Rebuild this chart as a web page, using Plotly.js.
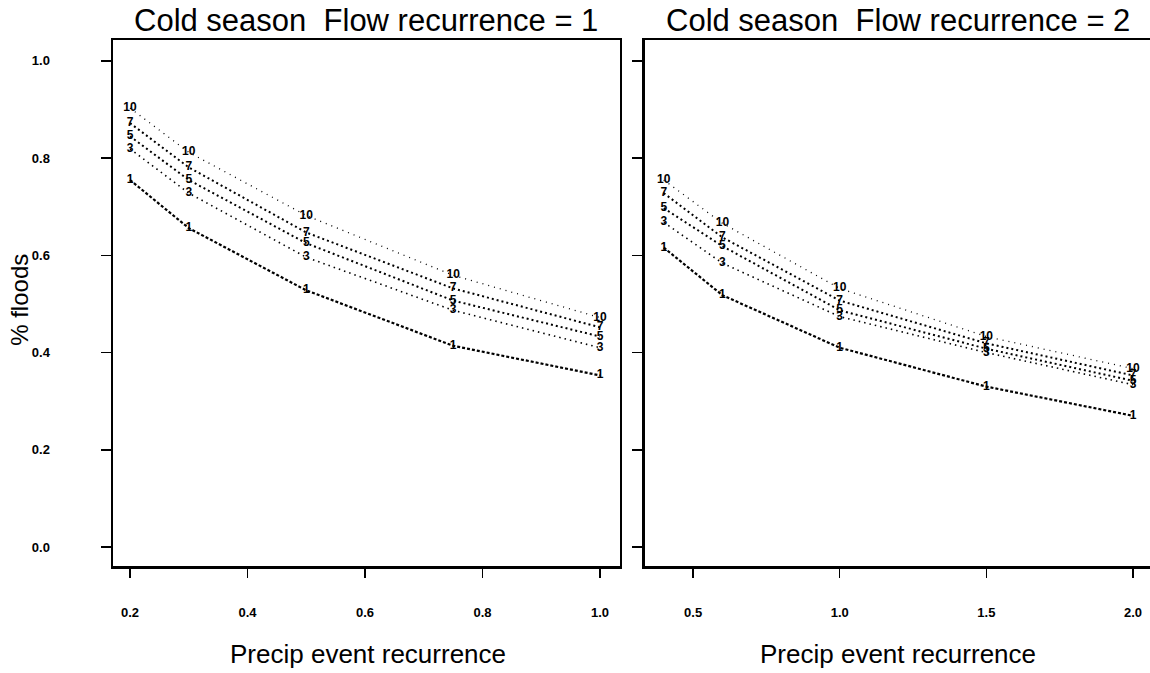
<!DOCTYPE html>
<html>
<head>
<meta charset="utf-8">
<script src="https://cdn.plot.ly/plotly-3.0.1.min.js"></script>
<style>html,body{margin:0;padding:0;background:#fff;}#chart{width:1150px;height:673px;}</style>
</head>
<body>
<div id="chart"></div>
<script>
// Precip event recurrence (x) for each panel
var precipLeft = [0.2, 0.3, 0.5, 0.75, 1.0];
var precipRight = [0.4, 0.6, 1.0, 1.5, 2.0];

// Curve labels
var curveLabels = ['10', '7', '5', '3', '1'];

// Left panel: Flow recurrence = 1, % floods
var left10 = [0.903, 0.812, 0.682, 0.559, 0.472];
var left7  = [0.872, 0.781, 0.647, 0.532, 0.452];
var left5  = [0.845, 0.755, 0.625, 0.507, 0.433];
var left3  = [0.819, 0.728, 0.596, 0.487, 0.410];
var left1  = [0.755, 0.656, 0.528, 0.414, 0.353];

// Right panel: Flow recurrence = 2, % floods
var right10 = [0.755, 0.666, 0.532, 0.433, 0.367];
var right7  = [0.728, 0.637, 0.507, 0.419, 0.353];
var right5  = [0.697, 0.619, 0.487, 0.408, 0.342];
var right3  = [0.668, 0.584, 0.474, 0.400, 0.334];
var right1  = [0.616, 0.518, 0.410, 0.330, 0.270];

// Tick labels
var xTicksLeft = [0.2, 0.4, 0.6, 0.8, 1.0];
var xTickTextLeft = ['0.2', '0.4', '0.6', '0.8', '1.0'];
var xTicksRight = [0.5, 1.0, 1.5, 2.0];
var xTickTextRight = ['0.5', '1.0', '1.5', '2.0'];
var yTicks = [0.0, 0.2, 0.4, 0.6, 0.8, 1.0];
var yTickText = ['0.0', '0.2', '0.4', '0.6', '0.8', '1.0'];

var leftSeries = [left10, left7, left5, left3, left1];
var rightSeries = [right10, right7, right5, right3, right1];

var lineStyles = [
  {width: 1.3, dash: '1px,5px'},
  {width: 2.0, dash: '2px,3px'},
  {width: 2.0, dash: '2px,3px'},
  {width: 1.6, dash: '1.5px,4px'},
  {width: 2.2, dash: '3px,2px'}
];

var FONT = 'Liberation Sans, Arial, Helvetica, sans-serif';
var traces = [];
function addPanel(xs, series, xa, ya) {
  for (var i = 0; i < series.length; i++) {
    var txt = xs.map(function(){ return curveLabels[i]; });
    traces.push({
      x: xs, y: series[i], xaxis: xa, yaxis: ya,
      type: 'scatter', mode: 'lines+text',
      text: txt, textposition: 'middle center',
      textfont: {family: FONT, size: 12, color: '#000', weight: 'bold'},
      line: {color: '#000', width: lineStyles[i].width, dash: lineStyles[i].dash},
      showlegend: false, hoverinfo: 'skip', cliponaxis: false
    });
  }
}
addPanel(precipLeft, leftSeries, 'x', 'y');
addPanel(precipRight, rightSeries, 'x2', 'y2');

var tickFont = {family: FONT, size: 13, color: '#000', weight: 'bold'};
var common = {
  showgrid: false, zeroline: false, showline: true, linecolor: '#000', linewidth: 2.5,
  ticks: 'outside', ticklen: 9, tickwidth: 1.5, tickcolor: '#000', tickfont: tickFont
};

var layout = {
  width: 1150, height: 673,
  margin: {l: 113, r: 0, t: 40, b: 107},
  paper_bgcolor: '#fff', plot_bgcolor: '#fff',
  showlegend: false,
  xaxis: Object.assign({}, common, {
    domain: [0, 0.4889], range: [0.171, 1.034], mirror: true,
    tickvals: xTicksLeft, ticktext: xTickTextLeft, ticklabelstandoff: 24, anchor: 'y'
  }),
  yaxis: Object.assign({}, common, {
    domain: [0, 1], range: [-0.039, 1.043], mirror: true,
    tickvals: yTicks, ticktext: yTickText, ticklabelstandoff: 48, ticklen: 10, anchor: 'x'
  }),
  xaxis2: Object.assign({}, common, {
    domain: [0.513, 1], range: [0.336, 2.058], mirror: true,
    tickvals: xTicksRight, ticktext: xTickTextRight, ticklabelstandoff: 24, anchor: 'y2'
  }),
  yaxis2: Object.assign({}, common, {
    domain: [0, 1], range: [-0.039, 1.043], mirror: false,
    tickvals: yTicks, showticklabels: false, ticklen: 10, anchor: 'x2'
  }),
  annotations: [
    {text: 'Cold season&nbsp;&nbsp;Flow recurrence = 1', xref: 'paper', yref: 'paper',
     x: 0.244, y: 1.038, xanchor: 'center', yanchor: 'middle', showarrow: false,
     font: {family: FONT, size: 31, color: '#000'}},
    {text: 'Cold season&nbsp;&nbsp;Flow recurrence = 2', xref: 'paper', yref: 'paper',
     x: 0.757, y: 1.038, xanchor: 'center', yanchor: 'middle', showarrow: false,
     font: {family: FONT, size: 31, color: '#000'}},
    {text: 'Precip event recurrence', xref: 'paper', yref: 'paper',
     x: 0.246, y: -0.168, xanchor: 'center', yanchor: 'middle', showarrow: false,
     font: {family: FONT, size: 26, color: '#000'}},
    {text: 'Precip event recurrence', xref: 'paper', yref: 'paper',
     x: 0.757, y: -0.168, xanchor: 'center', yanchor: 'middle', showarrow: false,
     font: {family: FONT, size: 26, color: '#000'}},
    {text: '% floods', xref: 'paper', yref: 'paper', textangle: -90,
     x: -0.0897, y: 0.506, xanchor: 'center', yanchor: 'middle', showarrow: false,
     font: {family: FONT, size: 24, color: '#000'}}
  ]
};

Plotly.newPlot('chart', traces, layout, {staticPlot: true, displayModeBar: false});
</script>
</body>
</html>
